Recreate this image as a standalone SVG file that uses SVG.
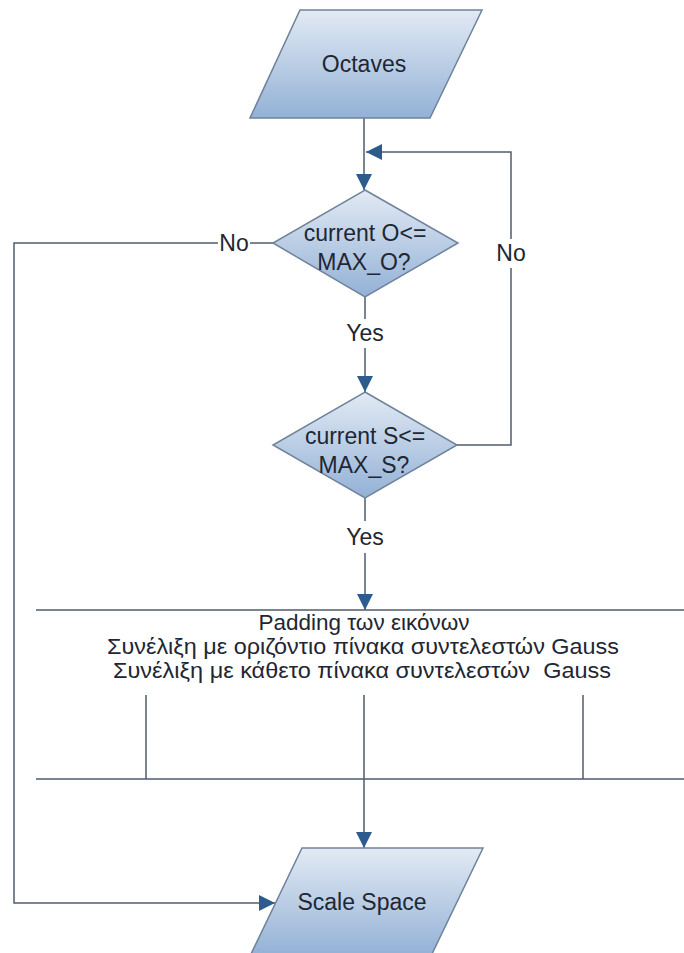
<svg xmlns="http://www.w3.org/2000/svg" width="684" height="953" viewBox="0 0 684 953">
<defs>
<linearGradient id="g" x1="0" y1="0" x2="0" y2="1">
<stop offset="0" stop-color="#e2eaf4"/>
<stop offset="1" stop-color="#93b1d6"/>
</linearGradient>
<marker id="ah" viewBox="0 0 16 16" refX="16" refY="8" markerWidth="16" markerHeight="16" orient="auto" markerUnits="userSpaceOnUse">
<path d="M0,0 L16,8 L0,16 Z" fill="#2d5b8e"/>
</marker>
<style>
.shape{fill:url(#g);stroke:#6f829b;stroke-width:1.5}
.ln{fill:none;stroke:#4f5d6e;stroke-width:1.5}
.t{font-family:"Liberation Sans",Arial,sans-serif;font-size:23px;fill:#1e2733;text-anchor:middle}
.tg{font-family:"Liberation Sans",Arial,sans-serif;font-size:22px;fill:#1e2733;text-anchor:middle}
</style>
</defs>
<rect width="684" height="953" fill="#ffffff"/>
<g id="connectors">
<path class="ln" d="M364,118 V190" marker-end="url(#ah)"/>
<path class="ln" d="M365,297 V319"/>
<path class="ln" d="M365,348 V392" marker-end="url(#ah)"/>
<path class="ln" d="M365,498 V521"/>
<path class="ln" d="M365,553 V610" marker-end="url(#ah)"/>
<path class="ln" d="M457,445 H511 V268"/>
<path class="ln" d="M511,239 V152 H366" marker-end="url(#ah)"/>
<path class="ln" d="M273,243 H250"/>
<path class="ln" d="M218,243 H14 V903 H275" marker-end="url(#ah)"/>
<path class="ln" d="M364,779 V848" marker-end="url(#ah)"/>
<text class="t" x="365" y="341">Yes</text>
<text class="t" x="365" y="545">Yes</text>
<text class="t" x="511" y="261">No</text>
<text class="t" x="234" y="251">No</text>
</g>
<g id="octaves">
<polygon class="shape" points="300,10 482,10 430,118 250,118"/>
<text class="t" x="364" y="72">Octaves</text>
</g>
<g id="decision-o">
<polygon class="shape" points="365,190 458,243 365,297 273,243"/>
<text class="t" x="365" y="241">current O&lt;=</text>
<text class="t" x="364" y="270">MAX_O?</text>
</g>
<g id="decision-s">
<polygon class="shape" points="365,392 457,445 365,498 273,445"/>
<text class="t" x="365" y="444">current S&lt;=</text>
<text class="t" x="364" y="473">MAX_S?</text>
</g>
<g id="process">
<path class="ln" d="M36,610 H684 M36,779 H684 M146,695 V779 M364,695 V779 M583,695 V779"/>
<text class="tg" x="364" y="630" textLength="211" lengthAdjust="spacingAndGlyphs">Padding των εικόνων</text>
<text class="tg" x="363" y="654" textLength="512" lengthAdjust="spacingAndGlyphs">Συνέλιξη με οριζόντιο πίνακα συντελεστών Gauss</text>
<text class="tg" x="362" y="678" textLength="498" lengthAdjust="spacingAndGlyphs" xml:space="preserve">Συνέλιξη με κάθετο πίνακα συντελεστών  Gauss</text>
</g>
<g id="scale-space">
<polygon class="shape" points="302,848 483,848 431,956 250,956"/>
<text class="t" x="362" y="910">Scale Space</text>
</g>
</svg>
